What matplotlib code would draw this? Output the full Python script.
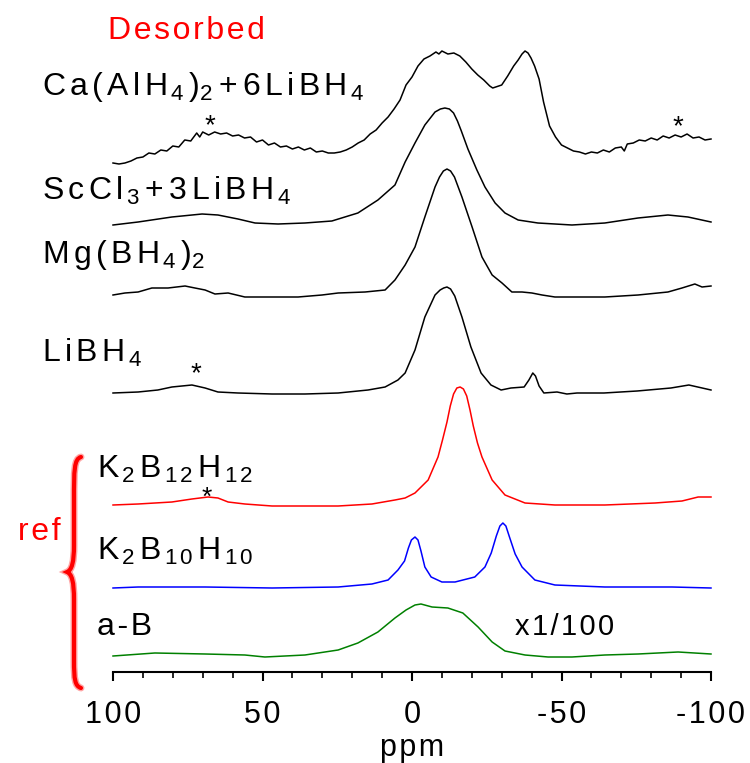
import matplotlib
matplotlib.use("Agg")
import matplotlib.pyplot as plt
from matplotlib.ticker import MultipleLocator
from matplotlib.transforms import Affine2D
from matplotlib.path import Path
from matplotlib.patches import PathPatch

plt.rcParams.update({
    "font.family": ["Liberation Sans", "DejaVu Sans"],
    "mathtext.fontset": "custom",
    "mathtext.rm": "Liberation Sans",
    "mathtext.it": "Liberation Sans:italic",
    "mathtext.bf": "Liberation Sans:bold",
})

# ---- spectra (ppm, intensity above own baseline) ----
ppm_ca = [100, 98, 96, 94, 92, 90, 88, 86, 84, 82, 80, 78, 76, 74, 72, 71, 70, 68, 66, 64,
          62, 60, 58, 56, 54, 52, 50, 48, 46, 44, 42, 40, 38, 36, 34, 32, 30, 28, 26, 24,
          22, 20, 18, 16, 14, 12, 10, 8, 6, 4, 2, 0, -2, -4, -6, -8, -9, -10, -12, -14,
          -16, -18, -20, -22, -24, -26, -27, -28, -30, -32, -34, -35.5, -36.8, -37.8, -38.8,
          -39.8, -41, -42.5, -44, -46, -48, -50,
          -52, -54, -56, -58, -60, -62, -64, -66, -68, -70, -71, -72, -74, -76, -78, -80, -82, -84, -86, -88,
          -90, -92, -94, -96, -98, -100]
int_ca = [1, 0, 1, 3, 6, 7, 11, 10, 14, 13, 18, 17, 24, 23, 31, 27, 32, 29, 32, 30,
          31, 28, 29, 26, 27, 22, 24, 19, 21, 17, 18, 15, 17, 14, 16, 12, 13, 11, 11, 12,
          14, 17, 21, 24, 30, 34, 41, 47, 55, 64, 79, 87, 98, 105, 108, 112, 110, 113, 110, 111,
          108, 102, 95, 89, 84, 78, 76, 77, 79, 88, 98, 104, 110, 113, 111,
          106, 98, 85, 62, 38, 27, 19,
          16, 13, 12, 10, 12, 11, 14, 12, 16, 17, 13, 20, 21, 24, 23, 26, 24, 28, 26, 29,
          27, 30, 26, 27, 24, 25]

ppm_sc = [100, 91.6, 80.3, 70.2, 64.9, 58.2, 52.5, 44.8, 35.8, 26.8, 18.1, 11.4, 5.7, 2.3, -1,
          -4.3, -7.7, -9.5, -11, -12.5, -13.9, -15.2, -16.5, -18.7, -21.7, -24.4, -27.8, -31.1,
          -35.5, -42.1, -53.5, -64.5, -75.6, -85.6, -92.3, -100]
int_sc = [0, 3, 8, 11, 10, 6, 2, 1, 2, 4, 12, 25, 40, 63, 82,
          100, 113, 116, 117, 116, 112, 104, 94, 76, 55, 38, 22, 12,
          5, 2, 0, 2, 7, 10, 8, 3]

ppm_mg = [100, 96, 91.6, 87, 81.6, 75.9, 72.6, 69.2, 65.9, 61.5, 55.9, 46.8, 38.1, 30.1, 24.7,
          15.7, 9, 5.7, 2.3, -1, -4.3, -7.7, -9.2, -10.5, -11.7, -12.9, -14.2, -16.7, -20.1,
          -23.4, -26.8, -30.1, -33.4, -36.8, -40.1, -43.5, -47.8, -53.5, -64.5, -75.6, -85.6,
          -90.3, -94.6, -97, -100]
int_mg = [2, 4, 5, 9, 9, 11, 9, 7, 3, 4, 0, 0, 0, 2, 4,
          5, 7, 17, 32, 50, 80, 110, 120, 126, 128, 126, 120, 100, 70,
          40, 22, 14, 5, 5, 4, 2, 0, 0, 0, 2, 5,
          9, 13, 10, 11]

ppm_li = [100, 91.6, 85, 80.3, 73.6, 69.2, 64.9, 58.2, 46.8, 35.8, 24.7, 14.7, 9, 4.7, 2.3,
          -1, -4.3, -7.7, -9.4, -10.6, -11.7, -12.9, -14.3, -16.7, -19.7, -23.1, -26.4, -29.8,
          -33.1, -37.5, -39.1, -40.4, -41.3, -42.5, -44.1, -48.5, -51.8, -55.2, -64.2, -75.3,
          -86.6, -92.6, -100]
int_li = [1, 2, 4, 7, 9, 6, 2, 1, 0, 0, 1, 4, 7, 14, 21,
          44, 77, 99, 104, 106, 107, 105, 98, 77, 47, 21, 9, 4,
          6, 7, 14, 21, 18, 8, 1, 2, 0, 1, 1, 3,
          6, 9, 4]

ppm_b12 = [100, 91.6, 80.3, 73.6, 68.2, 64.9, 61.5, 55.9, 46.8, 35.8, 24.7, 13.4, 5.7, 2.3, -1,
           -5.4, -8.7, -10.2, -11.7, -12.8, -13.9, -15, -16.1, -17.2, -18.3, -19.4, -20.5,
           -21.9, -23.4, -26.8, -31.1, -37.8, -47.8, -64.5, -81.3, -90.3, -95.7, -100]
int_b12 = [1, 2, 4, 7, 9, 8, 4, 2, 0, 0, 0, 2, 6, 8, 13,
           26, 49, 66, 84, 100, 112, 118, 119, 117, 110, 96, 80,
           63, 49, 26, 11, 3, 1, 1, 3, 5, 9, 9]

ppm_b10 = [100, 91.6, 69.2, 46.8, 24.7, 13.4, 8, 4.7, 2.5, 1.2, 0.2, -1, -2, -3, -4.3, -6.4,
           -10, -14.4, -21, -24.4, -26.5, -28.2, -29.4, -30.4, -31.4, -32.6, -34.5, -36.8,
           -41.1, -47.8, -64.5, -87, -100]
int_b10 = [0, 1, 1, 0, 1, 4, 8, 18, 27, 40, 48, 51, 48, 37, 21, 11,
           6, 6, 11, 21, 35, 52, 62, 65, 62, 51, 34, 21,
           8, 3, 1, 1, 0]

ppm_ab = [100, 86, 69.2, 55.9, 49.2, 35.8, 24.7, 18.1, 11.4, 5.7, 2, -1, -3, -6.7, -12, -17,
          -22.1, -26.8, -31.1, -37.8, -45.5, -53.5, -64.5, -75.6, -89, -100]
int_ab = [1, 4, 3, 2, 0, 2, 7, 14, 25, 39, 47, 52, 53, 50, 49, 44,
          30, 15, 6, 2, 0, 0, 2, 3, 5, 3]

W, H = 750, 763
fig = plt.figure(figsize=(W / 100, H / 100), dpi=100)
ax = fig.add_axes([113 / W, (H - 672) / H, 598 / W, 672 / H])
pix = Affine2D().scale(1 / W, -1 / H).translate(0, 1) + fig.transFigure

traces = [
    (ppm_ca, int_ca, 508, "black"),
    (ppm_sc, int_sc, 447, "black"),
    (ppm_mg, int_mg, 375, "black"),
    (ppm_li, int_li, 278, "black"),
    (ppm_b12, int_b12, 166, "#ff0000"),
    (ppm_b10, int_b10, 84, "#0000ff"),
    (ppm_ab, int_ab, 15, "#008000"),
]
for x, y, off, c in traces:
    ax.plot(x, [v + off for v in y], color=c, lw=1.1, clip_on=False)

ax.set_xlim(100, -100)
ax.set_ylim(0, 672)
for s in ["left", "right", "top"]:
    ax.spines[s].set_visible(False)
ax.spines["bottom"].set_linewidth(1.5)
ax.set_yticks([])
ax.set_xticks([100, 50, 0, -50, -100])
sp = "\u200a"
ax.set_xticklabels([sp.join(t) for t in ["100", "50", "0", "-50", "-100"]])
ax.xaxis.set_minor_locator(MultipleLocator(10))
ax.tick_params(axis="x", which="major", direction="out", length=6.5, width=1.5,
               pad=14, labelsize=22)
ax.tick_params(axis="x", which="minor", direction="out", length=4.3, width=1.2)
ax.set_xlabel(sp.join("ppm"), fontsize=22, labelpad=2)

# labels
fs = 23
fig.text(108, 39, sp.join("Desorbed"), color="red", fontsize=fs, transform=pix)
fig.text(42, 95, r"$\mathrm{C\,a\,(\,A\,l\,H_{\,4}\,)_{2}+6\,L\,i\,B\,H_{\,4}}$",
         fontsize=fs, transform=pix)
fig.text(42, 200, r"$\mathrm{S\,c\,C\,l_{\,3}+3\,L\,i\,B\,H_{\,4}}$", fontsize=fs, transform=pix)
fig.text(42, 263, r"$\mathrm{M\,g\,(\,B\,H_{\,4}\,)_{2}}$", fontsize=fs, transform=pix)
fig.text(42, 362, r"$\mathrm{L\,i\,B\,H_{\,4}}$", fontsize=fs, transform=pix)
fig.text(97, 478, r"$\mathrm{K_{\,2}\,B_{\,1\,2}\,H_{\,1\,2}}$", fontsize=fs, transform=pix)
fig.text(97, 560, r"$\mathrm{K_{\,2}\,B_{\,1\,0}\,H_{\,1\,0}}$", fontsize=fs, transform=pix)
fig.text(97, 635, sp.join("a-B"), fontsize=fs, transform=pix)
fig.text(515, 635, sp.join("x1/100"), fontsize=21, transform=pix)
fig.text(18, 540, sp.join("ref"), color="red", fontsize=fs, transform=pix)

for (px, py, fz) in [(210, 133, 20), (678, 134, 20), (196, 381, 20), (207, 505, 19)]:
    fig.text(px, py, "*", fontsize=fz, ha="center", transform=pix)

# brace for reference spectra
verts = [(81, 457), (74, 459), (74, 470), (74, 500),
         (74, 545),
         (74, 562), (72, 570), (67, 572),
         (72, 574), (74, 582), (74, 600),
         (74, 660),
         (74, 680), (75, 686), (81, 688)]
codes = [Path.MOVETO, Path.CURVE4, Path.CURVE4, Path.CURVE4,
         Path.LINETO,
         Path.CURVE4, Path.CURVE4, Path.CURVE4,
         Path.CURVE4, Path.CURVE4, Path.CURVE4,
         Path.LINETO,
         Path.CURVE4, Path.CURVE4, Path.CURVE4]
for lw, a in [(5, 0.35), (3, 1.0)]:
    fig.add_artist(PathPatch(Path(verts, codes), fill=False, edgecolor="red", lw=lw,
                             alpha=a, transform=pix, capstyle="round"))

fig.savefig("out.png", dpi=100)
